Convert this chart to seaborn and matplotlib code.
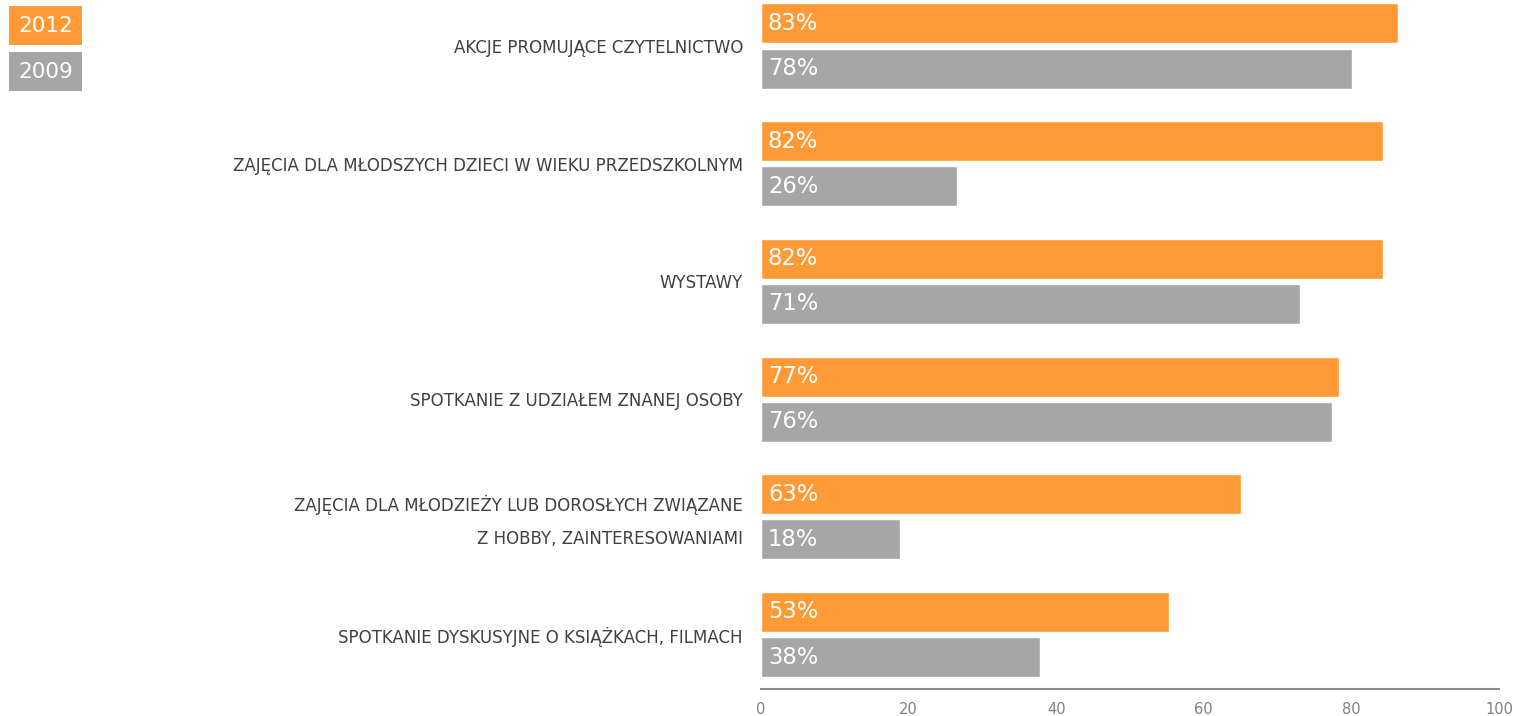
import matplotlib
matplotlib.use("Agg")
import matplotlib.pyplot as plt
import matplotlib.transforms as mtransforms
from matplotlib.patches import Rectangle
import seaborn as sns
import pandas as pd

categories = [
    "AKCJE PROMUJĄCE CZYTELNICTWO",
    "ZAJĘCIA DLA MŁODSZYCH DZIECI W WIEKU PRZEDSZKOLNYM",
    "WYSTAWY",
    "SPOTKANIE Z UDZIAŁEM ZNANEJ OSOBY",
    "ZAJĘCIA DLA MŁODZIEŻY LUB DOROSŁYCH ZWIĄZANE\nZ HOBBY, ZAINTERESOWANIAMI",
    "SPOTKANIE DYSKUSYJNE O KSIĄŻKACH, FILMACH",
]
years = ["2012", "2009"]
# bar lengths as drawn in the picture (axis units)
bars_2012 = [86.3, 84.3, 84.3, 78.3, 65.0, 55.3]
bars_2009 = [80.1, 26.6, 73.0, 77.4, 18.8, 37.8]
# printed value labels
labels_2012 = ["83%", "82%", "82%", "77%", "63%", "53%"]
labels_2009 = ["78%", "26%", "71%", "76%", "18%", "38%"]
xticks = [0, 20, 40, 60, 80, 100]

ORANGE = "#FF9A36"
GREY = "#A6A6A6"

df = pd.DataFrame({
    "cat": categories * 2,
    "year": [years[0]] * len(categories) + [years[1]] * len(categories),
    "val": bars_2012 + bars_2009,
})

sns.set_style("white")
plt.rcParams["font.family"] = ["DejaVu Sans"]

W, H = 1516, 716
fig = plt.figure(figsize=(W / 100, H / 100), dpi=100)
ax = fig.add_axes([761 / W, 1 - 689 / H, (1499 - 761) / W, 689 / H])

sns.barplot(data=df, y="cat", x="val", hue="year", hue_order=years,
            order=categories, palette={"2012": ORANGE, "2009": GREY},
            width=0.766, gap=0.112, orient="h", legend=False,
            saturation=1, ax=ax)

for cont, labs in zip(ax.containers, [labels_2012, labels_2009]):
    for bar, lab in zip(cont, labs):
        ax.annotate(lab, (bar.get_x(), bar.get_y() + bar.get_height() / 2),
                    xytext=(7, 0), textcoords="offset pixels",
                    ha="left", va="center", color="white", fontsize=16.3)

ax.set_xlim(0, 100)
ax.set_ylim(5.463, -0.391)
ax.set_xticks(xticks)
ax.set_xticklabels([str(t) for t in xticks])
ax.set_xlabel("")
ax.set_ylabel("")
for s in ["top", "right", "left"]:
    ax.spines[s].set_visible(False)
ax.spines["bottom"].set_color("#8C8C8C")
ax.spines["bottom"].set_linewidth(1.5)
ax.tick_params(axis="x", length=0, pad=9, labelsize=10.5, labelcolor="#808080")
ax.tick_params(axis="y", length=0, pad=13, labelsize=12, labelcolor="#404040")
for t in ax.get_yticklabels():
    t.set_horizontalalignment("right")
    if "\n" in t.get_text():
        t.set_linespacing(2.1)
        t.set_transform(t.get_transform() +
                        mtransforms.ScaledTranslation(0, 5 / 100, fig.dpi_scale_trans))

# legend boxes
for i, (yr, col) in enumerate(zip(years, [ORANGE, GREY])):
    top = 6 + i * 46
    fig.patches.append(Rectangle((9 / W, 1 - (top + 39) / H), 73 / W, 39 / H,
                                 transform=fig.transFigure, facecolor=col,
                                 edgecolor="none"))
    fig.text(45.5 / W, 1 - (top + 19.5) / H, yr, ha="center", va="center",
             color="white", fontsize=15.5)

fig.savefig("out.png", dpi=100)
